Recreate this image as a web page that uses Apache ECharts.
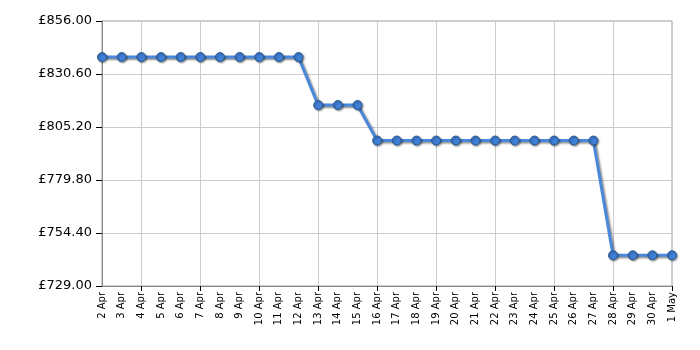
<!DOCTYPE html>
<html>
<head>
<meta charset="utf-8">
<script src="https://cdn.jsdelivr.net/npm/echarts@6/dist/echarts.min.js"></script>
<style>html,body{margin:0;padding:0;background:#fff}#c{width:700px;height:350px}</style>
</head>
<body>
<div id="c"></div>
<script>
const categories = ["2 Apr","3 Apr","4 Apr","5 Apr","6 Apr","7 Apr","8 Apr","9 Apr","10 Apr","11 Apr","12 Apr","13 Apr","14 Apr","15 Apr","16 Apr","17 Apr","18 Apr","19 Apr","20 Apr","21 Apr","22 Apr","23 Apr","24 Apr","25 Apr","26 Apr","27 Apr","28 Apr","29 Apr","30 Apr","1 May"];
const prices = [838.7,838.7,838.7,838.7,838.7,838.7,838.7,838.7,838.7,838.7,838.7,815.7,815.7,815.7,798.7,798.7,798.7,798.7,798.7,798.7,798.7,798.7,798.7,798.7,798.7,798.7,743.7,743.7,743.7,743.7];
const yMin = 729.0, yMax = 856.0, yStep = 25.4;

const chart = echarts.init(document.getElementById('c'), null, {renderer:'canvas'});
const every3 = (i) => (i - 2) % 3 === 0;
chart.setOption({
  animation: false,
  grid: {left: 102, right: 28, top: 21, bottom: 64, show: true, borderColor: '#a0a0a0', borderWidth: 1},
  xAxis: {
    type: 'category', data: categories, boundaryGap: false,
    axisLine: {lineStyle: {color: '#888', width: 1}},
    axisTick: {show: true, interval: every3, length: 5, lineStyle: {color: '#000'}},
    splitLine: {show: true, interval: every3, lineStyle: {color: '#cccccc', width: 1}},
    axisLabel: {interval: 0, rotate: 90, fontFamily: 'DejaVu Sans', fontSize: 10, color: '#000', margin: 6}
  },
  yAxis: {
    type: 'value', min: yMin, max: yMax, interval: yStep,
    axisLine: {show: true, lineStyle: {color: '#888'}},
    axisTick: {show: true, length: 6, lineStyle: {color: '#000'}},
    splitLine: {lineStyle: {color: '#cccccc'}},
    axisLabel: {fontFamily: 'DejaVu Sans', fontSize: 13, color: '#000', margin: 10,
      formatter: v => '£' + v.toFixed(2)}
  },
  series: [{
    type: 'line', data: prices, symbol: 'circle', symbolSize: 9,
    lineStyle: {color: '#4a88dc', width: 3, shadowColor: 'rgba(0,0,0,0.45)', shadowBlur: 2, shadowOffsetX: 1.5, shadowOffsetY: 1.5},
    itemStyle: {color: '#3f7fd6', borderColor: '#2a5a90', borderWidth: 1, shadowColor: 'rgba(0,0,0,0.4)', shadowBlur: 2, shadowOffsetX: 1, shadowOffsetY: 1}
  }]
});
</script>
</body>
</html>
